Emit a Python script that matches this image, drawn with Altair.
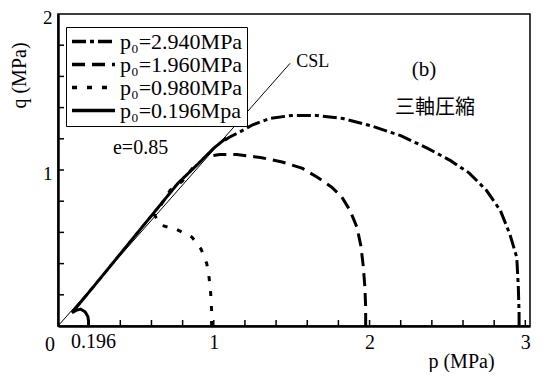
import altair as alt
import pandas as pd

# ---- data ----
series_names = ["p₀=2.940MPa", "p₀=1.960MPa", "p₀=0.980MPa", "p₀=0.196Mpa"]

p_2940 = [2.96, 2.96, 2.955, 2.945, 2.90, 2.84, 2.75, 2.64, 2.52, 2.37, 2.20, 2.02, 1.83, 1.66, 1.50, 1.36, 1.25, 1.16, 1.10, 1.07]
q_2940 = [0.00, 0.08, 0.25, 0.44, 0.59, 0.74, 0.87, 0.98, 1.06, 1.14, 1.22, 1.28, 1.33, 1.35, 1.35, 1.33, 1.29, 1.24, 1.21, 1.19]

p_1960 = [1.975, 1.975, 1.97, 1.96, 1.945, 1.92, 1.875, 1.82, 1.757, 1.67, 1.57, 1.445, 1.30, 1.147, 1.04, 0.98]
q_1960 = [0.00, 0.12, 0.25, 0.38, 0.51, 0.63, 0.74, 0.83, 0.89, 0.95, 1.01, 1.05, 1.08, 1.10, 1.10, 1.09]

p_0980 = [0.986, 0.986, 0.98, 0.97, 0.955, 0.92, 0.86, 0.76, 0.665, 0.62, 0.67, 0.72, 0.80, 0.87]
q_0980 = [0.00, 0.10, 0.21, 0.31, 0.40, 0.49, 0.57, 0.62, 0.645, 0.71, 0.79, 0.87, 0.93, 1.02]

p_0196 = [0.196, 0.196, 0.192, 0.175, 0.145, 0.115, 0.09, 0.30, 0.50, 0.77, 0.90, 1.00, 1.08]
q_0196 = [0.00, 0.03, 0.06, 0.09, 0.108, 0.10, 0.085, 0.34, 0.585, 0.915, 1.04, 1.14, 1.205]

csl_p = [0.0, 1.49]
csl_q = [0.0, 1.684]

x_minor_ticks = [0.2, 0.4, 0.6, 0.8, 1.0, 1.2, 1.4, 1.6, 1.8, 2.0, 2.2, 2.4, 2.6, 2.8, 3.0]
y_minor_ticks = [0.2, 0.4, 0.6, 0.8, 1.0, 1.2, 1.4, 1.6, 1.8]
x_label_values = [1, 2, 3]
y_label_values = [1, 2]

dash_patterns = [[14, 4, 4, 4], [13, 7], [5, 10], [1, 0]]

# ---- build tables ----
rows = []
for name, ps, qs in zip(series_names, [p_2940, p_1960, p_0980, p_0196], [q_2940, q_1960, q_0980, q_0196]):
    for i, (p, q) in enumerate(zip(ps, qs)):
        rows.append({"series": name, "p": p, "q": q, "i": i})
df = pd.DataFrame(rows)
df_csl = pd.DataFrame({"p": csl_p, "q": csl_q})
df_xt = pd.DataFrame({"p": x_minor_ticks})
df_yt = pd.DataFrame({"q": y_minor_ticks})

W, H = 472, 312
SERIF = "Liberation Serif"
xscale = alt.Scale(domain=[0, 3.03], nice=False, zero=False)
yscale = alt.Scale(domain=[0, 2], nice=False, zero=False)

xaxis = alt.Axis(values=x_label_values, title="p (MPa)", labelFont=SERIF, labelFontSize=20,
                 labelColor="black", tickSize=0, labelPadding=6, domainColor="black",
                 domainWidth=2.5, grid=False, titleFont=SERIF, titleFontSize=20,
                 titleFontWeight="normal", titleColor="black", titleX=403, titleY=35,
                 titleAlign="center", titleBaseline="middle", format="d")
yaxis = alt.Axis(values=y_label_values, title="q (MPa)", labelFont=SERIF, labelFontSize=19,
                 labelColor="black", tickSize=0, labelPadding=6, labelOffset=3,
                 domainColor="black", domainWidth=2.5, grid=False, titleFont=SERIF,
                 titleFontSize=20, titleFontWeight="normal", titleColor="black",
                 titleX=-39, titleY=61, titleAlign="center", titleBaseline="middle",
                 format="d")

csl = alt.Chart(df_csl).mark_line(color="black", strokeWidth=1).encode(
    x=alt.X("p:Q", scale=xscale, axis=xaxis),
    y=alt.Y("q:Q", scale=yscale, axis=yaxis),
)

curves = alt.Chart(df).mark_line(color="black", strokeWidth=3).encode(
    x=alt.X("p:Q", scale=xscale),
    y=alt.Y("q:Q", scale=yscale),
    strokeDash=alt.StrokeDash(
        "series:N",
        scale=alt.Scale(domain=series_names, range=dash_patterns),
        legend=alt.Legend(title=None, orient="none", legendX=8, legendY=13,
                          symbolType="stroke", symbolStrokeWidth=3.5, symbolSize=1849,
                          symbolStrokeColor="black", labelFont=SERIF, labelFontSize=22,
                          labelColor="black", strokeColor="black", fillColor="white",
                          padding=4, rowPadding=0, labelOffset=3, clipHeight=21),
    ),
    order="i:Q",
)

xt = alt.Chart(df_xt).mark_rule(color="black", strokeWidth=1.5).encode(
    x=alt.X("p:Q", scale=xscale), y=alt.value(H), y2=alt.value(H - 6))
yt = alt.Chart(df_yt).mark_rule(color="black", strokeWidth=1.5).encode(
    y=alt.Y("q:Q", scale=yscale), x=alt.value(0), x2=alt.value(6))

def label(text, p, q, size=19, font=SERIF, align="center", dx=0, dy=0):
    d = pd.DataFrame({"p": [p], "q": [q], "t": [text]})
    return alt.Chart(d).mark_text(font=font, fontSize=size, color="black", align=align,
                                  baseline="middle", dx=dx, dy=dy).encode(
        x=alt.X("p:Q", scale=xscale), y=alt.Y("q:Q", scale=yscale), text="t:N")

texts = [
    label("CSL", 1.53, 1.69, size=18, align="left"),
    label("(b)", 2.35, 1.64, size=21),
    label("三軸圧縮", 2.42, 1.40, size=20, font="Noto Sans CJK JP"),
    label("e=0.85", 0.53, 1.14, size=20),
    label("0", 0.0, 0.0, size=20, dx=-8, dy=19),
    label("0.196", 0.196, 0.0, size=20, dx=5, dy=16),
]

chart = alt.layer(csl, curves, xt, yt, *texts).properties(
    width=W, height=H,
    autosize=alt.AutoSizeParams(type="none"),
    padding={"left": 50, "top": 6, "right": 8, "bottom": 46},
).configure_view(stroke="black", strokeWidth=1.5)

chart.save("out.html", embed_options={"renderer": "svg", "actions": False})
